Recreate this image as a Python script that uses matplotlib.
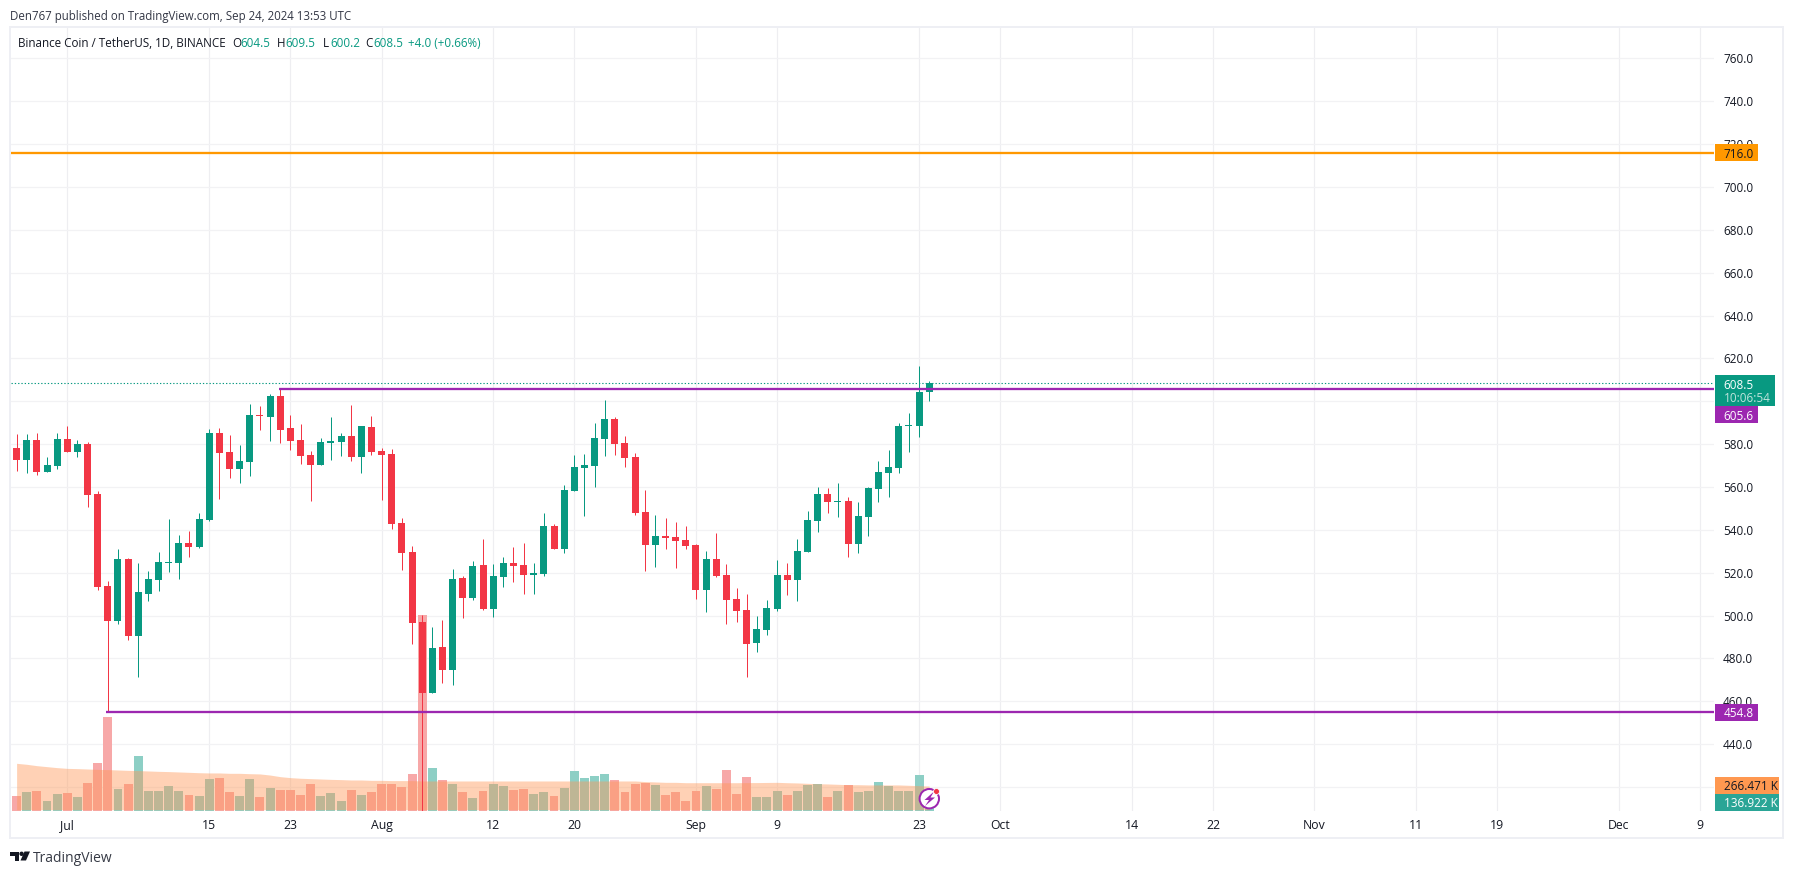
import matplotlib
matplotlib.use("Agg")
import matplotlib.pyplot as plt
from matplotlib.patches import Rectangle, Circle, Polygon

W, H = 1794, 874
FONT = "Open Sans"

opens = [578.2,572.6,582.0,567.0,569.8,582.4,576.4,580.1,556.8,513.8,497.5,526.4,490.5,510.1,516.6,524.6,524.6,533.9,532.0,544.6,
         585.2,576.4,568.4,571.7,593.6,592.7,602.5,587.6,582.0,574.9,570.3,580.6,581.0,583.8,574.0,588.0,576.8,575.4,543.2,529.7,
         497.0,463.9,485.3,474.6,517.5,508.2,523.6,503.1,518.0,524.6,523.6,518.9,519.4,541.8,531.1,558.2,568.9,569.8,582.4,591.8,
         580.6,574.0,548.4,532.9,537.2,536.7,535.3,532.9,511.9,526.4,518.9,507.7,502.6,487.2,493.3,503.1,518.9,516.6,529.7,544.1,
         556.8,553.0,553.5,533.4,546.0,559.1,566.5,568.9,588.5,588.5,604.5]
highs = [584.8,584.8,585.2,574.0,585.2,588.5,582.0,581.0,558.2,516.1,531.1,526.9,524.6,520.8,529.7,545.1,537.6,539.5,547.9,587.1,
         587.6,584.3,579.6,598.8,597.8,603.4,605.8,593.6,589.4,576.8,582.9,592.7,585.2,598.3,588.5,593.2,578.2,577.8,545.5,532.5,
         500.3,494.7,497.9,521.7,518.5,525.5,535.7,524.1,527.4,532.0,533.9,524.6,547.9,542.7,561.0,574.9,575.4,589.9,600.6,592.7,
         583.8,575.9,558.6,546.9,545.5,543.7,541.8,533.4,530.2,538.6,524.1,512.9,510.1,499.8,507.3,525.9,524.6,535.7,548.8,560.0,
         559.6,561.9,555.4,553.0,560.0,572.2,577.3,589.9,594.6,616.5,609.5]
lows = [567.5,566.5,565.6,567.0,568.4,576.4,574.0,550.7,511.9,454.8,496.1,488.6,471.3,506.8,511.5,520.3,517.1,527.4,531.5,544.1,
        554.4,564.2,561.9,565.2,586.6,581.5,580.6,577.3,570.8,553.5,570.3,572.6,574.5,572.2,566.5,574.9,553.9,540.4,521.3,486.7,
        400.0,463.9,468.5,467.6,498.9,507.3,502.6,499.3,513.3,515.7,510.1,510.1,518.5,531.1,529.2,558.2,546.5,560.0,574.5,574.9,
        569.4,546.9,520.8,522.7,531.1,522.2,531.1,507.7,501.7,518.0,496.1,497.0,471.3,483.0,490.9,502.1,509.6,506.8,529.7,539.0,
        547.9,546.0,527.4,529.2,537.2,553.0,555.4,566.5,576.4,583.4,600.2]
closes = [572.6,582.0,567.0,570.3,582.4,576.4,580.1,556.3,513.3,497.5,526.4,490.5,511.0,517.1,525.0,525.0,533.9,532.0,545.1,585.2,
          575.9,568.4,572.2,593.6,593.2,602.5,586.6,581.5,574.5,570.3,581.0,581.5,583.8,574.0,588.5,576.4,574.9,542.7,529.2,496.5,
          463.9,484.9,474.6,517.1,508.2,523.1,503.1,518.5,524.6,523.1,518.9,519.9,541.8,531.1,558.6,569.4,570.3,582.9,591.8,580.1,
          573.6,547.9,532.9,537.2,536.2,534.8,532.5,511.9,526.4,518.5,507.3,502.1,486.7,493.7,503.5,518.9,516.6,530.2,544.6,556.8,
          553.0,553.5,533.4,546.5,559.6,567.0,569.4,588.5,589.0,604.4,608.5]
volumes = [186,219,227,146,203,211,178,292,454,826,243,284,510,227,227,267,227,194,186,324,
           332,219,186,324,178,251,235,235,194,284,186,211,146,235,194,219,284,284,259,365,
           1652,413,316,284,219,170,227,284,267,235,243,203,219,186,251,389,332,348,365,316,
           219,284,292,275,194,219,146,227,267,243,397,203,340,178,178,227,194,227,275,284,
           178,227,275,219,227,300,267,227,227,356,137]
volume_ma = [451,443,432,424,416,410,408,405,402,400,397,394,392,389,386,384,381,378,375,373,
             373,370,370,367,365,356,343,335,330,327,324,321,319,316,316,313,313,311,311,311,
             308,308,308,308,308,308,308,308,308,308,308,308,308,308,308,308,308,308,308,308,
             308,308,303,300,297,297,294,294,294,294,294,294,295,295,296,297,294,292,289,286,
             284,281,278,278,276,276,276,276,273,270,267]

price_ticks = list(range(420, 780, 20))
hidden_price_labels = [420, 600]   # covered by the tags in the reference
date_ticks = [5, 19, 27, 36, 47, 55, 67, 75, 89, 97, 110, 118, 128, 138, 146, 158, 166]
date_labels = ["Jul","15","23","Aug","12","20","Sep","9","23","Oct","14","22","Nov","11","19","Dec","9"]

GREEN, RED, PURPLE, ORANGE = "#089981", "#F23645", "#9C27B0", "#FF9800"
VOL_UP, VOL_DOWN = "#8DCFC5", "#F7A8A8"
TXT = "#131722"
PX = 0.72
FS = 8.45

fig = plt.figure(figsize=(W / 100, H / 100), dpi=100, facecolor="white")
L, R, T, B = 11, 1714, 27, 811
pos = [L / W, 1 - B / H, (R - L) / W, (B - T) / H]
XLIM = (-0.552, 167.4)
YLIM = (408.8, 774.7)

base = fig.add_axes(pos, zorder=1)
base.set_xlim(*XLIM); base.set_ylim(*YLIM)
base.set_yticks(price_ticks, ["" if p in hidden_price_labels else f"{p}.0" for p in price_ticks],
                fontname=FONT, fontsize=FS, color=TXT)
base.set_xticks(date_ticks, date_labels, fontname=FONT, fontsize=8.8, color=TXT)
base.yaxis.tick_right()
base.tick_params(axis="both", length=0)
base.tick_params(axis="y", pad=6.5)
base.tick_params(axis="x", pad=6)
base.grid(True, axis="y", color="#F2F2F4", lw=1.2 * PX)
base.grid(True, axis="x", color="#EEEEF1", lw=1.2 * PX)
for s in base.spines.values():
    s.set_visible(False)

n = len(opens)
xs = list(range(n))
up = [c >= o for o, c in zip(opens, closes)]
cols = [GREEN if u else RED for u in up]
vcols = [VOL_UP if u else VOL_DOWN for u in up]

# volume pane
vol = fig.add_axes(pos, zorder=2)
vol.patch.set_alpha(0)
vol.axis("off")
vol.set_xlim(*XLIM)
vol.set_ylim(64.8, 6415)
vol.bar(xs, volumes, width=0.88, color=vcols, lw=0)
vol.fill_between(xs, volume_ma, 75, color="#FF9858", alpha=0.44, lw=0)

# candles
ax = fig.add_axes(pos, zorder=3)
ax.patch.set_alpha(0)
ax.axis("off")
ax.set_xlim(*XLIM); ax.set_ylim(*YLIM)
ax.vlines(xs, lows, highs, colors=cols, lw=1.0 * PX)
ax.bar(xs, [max(abs(c - o), 0.45) for o, c in zip(opens, closes)],
       bottom=[min(o, c) for o, c in zip(opens, closes)], width=0.69, color=cols, lw=0)
last_close = closes[-1]
ax.axhline(last_close, color=GREEN, lw=1.1 * PX, ls=(0, (1.2, 1.8)))
ax.axhline(716.0, color=ORANGE, lw=2.3 * PX)
ax.hlines(605.6, 25.9, XLIM[1], color=PURPLE, lw=2.3 * PX)
ax.hlines(454.8, 8.8, XLIM[1], color=PURPLE, lw=2.3 * PX)

# overlay in pixels
ov = fig.add_axes([0, 0, 1, 1], zorder=4)
ov.patch.set_alpha(0)
ov.axis("off")
ov.set_xlim(0, W); ov.set_ylim(H, 0)

def py(p):
    return H - ax.transData.transform((0, p))[1]

ov.add_patch(Rectangle((10, 27), 1773, 811, fill=False, ec="#EEEFF4", lw=2 * PX))

def tag(y0, y1, x1, color, text, tcolor="white", x0=1715, tx=1723.5):
    ov.add_patch(Rectangle((x0, y0), x1 - x0, y1 - y0, fc=color, ec="none"))
    ov.text(tx, (y0 + y1) / 2, text, color=tcolor, fontsize=FS, fontname=FONT, va="center_baseline")

tag(py(716) - 8.5, py(716) + 8.5, 1758, ORANGE, "716.0", TXT)
tag(py(454.8) - 8.5, py(454.8) + 8.5, 1758, PURPLE, "454.8", "white")
ov.add_patch(Rectangle((1715, 375), 60, 31, fc=GREEN, ec="none"))
ov.text(1723.5, 384, "608.5", color="white", fontsize=FS, fontname=FONT, va="center_baseline")
ov.text(1723.5, 397.5, "10:06:54", color="#BFE3DC", fontsize=FS, fontname=FONT, va="center_baseline")
tag(406, 423, 1758, PURPLE, "605.6", "white")
tag(777, 793.5, 1779, "#FF9850", "266.471 K", TXT)
tag(793.5, 811, 1779, "#2AA596", "136.922 K", "white")

# header and legend
ov.text(10, 15, "Den767 published on TradingView.com, Sep 24, 2024 13:53 UTC", color="#333745",
        fontsize=8.3, fontname=FONT, va="center_baseline")
def leg(x, s, c):
    ov.text(x, 42, s, color=c, fontsize=8.4, fontname=FONT, va="center_baseline")
leg(18, "Binance Coin / TetherUS, 1D, BINANCE", TXT)
for x, s in [(232, "O"), (277, "H"), (322.5, "L"), (365.5, "C")]:
    leg(x, s, TXT)
for x, s in [(240, "604.5"), (285, "609.5"), (330, "600.2"), (373, "608.5"), (408, "+4.0 (+0.66%)")]:
    leg(x, s, GREEN)

# lightning badge on the last bar
cx, cy = 929.3, 798.7
ov.add_patch(Circle((cx, cy), 9.7, fc="white", ec=PURPLE, lw=2 * PX))
ov.add_patch(Polygon([(934, 791.5), (924.5, 800), (929, 800), (925, 806), (935, 797.5), (930.5, 797.5)], fc=PURPLE, ec="none"))
ov.add_patch(Circle((936.5, 791.5), 3.0, fc=RED, ec="white", lw=0.8 * PX))

# TradingView logo
LOGO = "#131722"
ov.add_patch(Polygon([(10, 851.5), (19, 851.5), (19, 860.5), (14.5, 860.5), (14.5, 856), (10, 856)], fc=LOGO, ec="none"))
ov.add_patch(Circle((21.6, 853.8), 2.2, fc=LOGO, ec="none"))
ov.add_patch(Polygon([(24.5, 851.5), (30, 851.5), (26, 860.5), (20.5, 860.5)], fc=LOGO, ec="none"))
ov.text(33, 857, "TradingView", color="#363A45", fontsize=10.0, fontname=FONT, va="center_baseline")

fig.savefig("out.png", dpi=100, facecolor="white")
